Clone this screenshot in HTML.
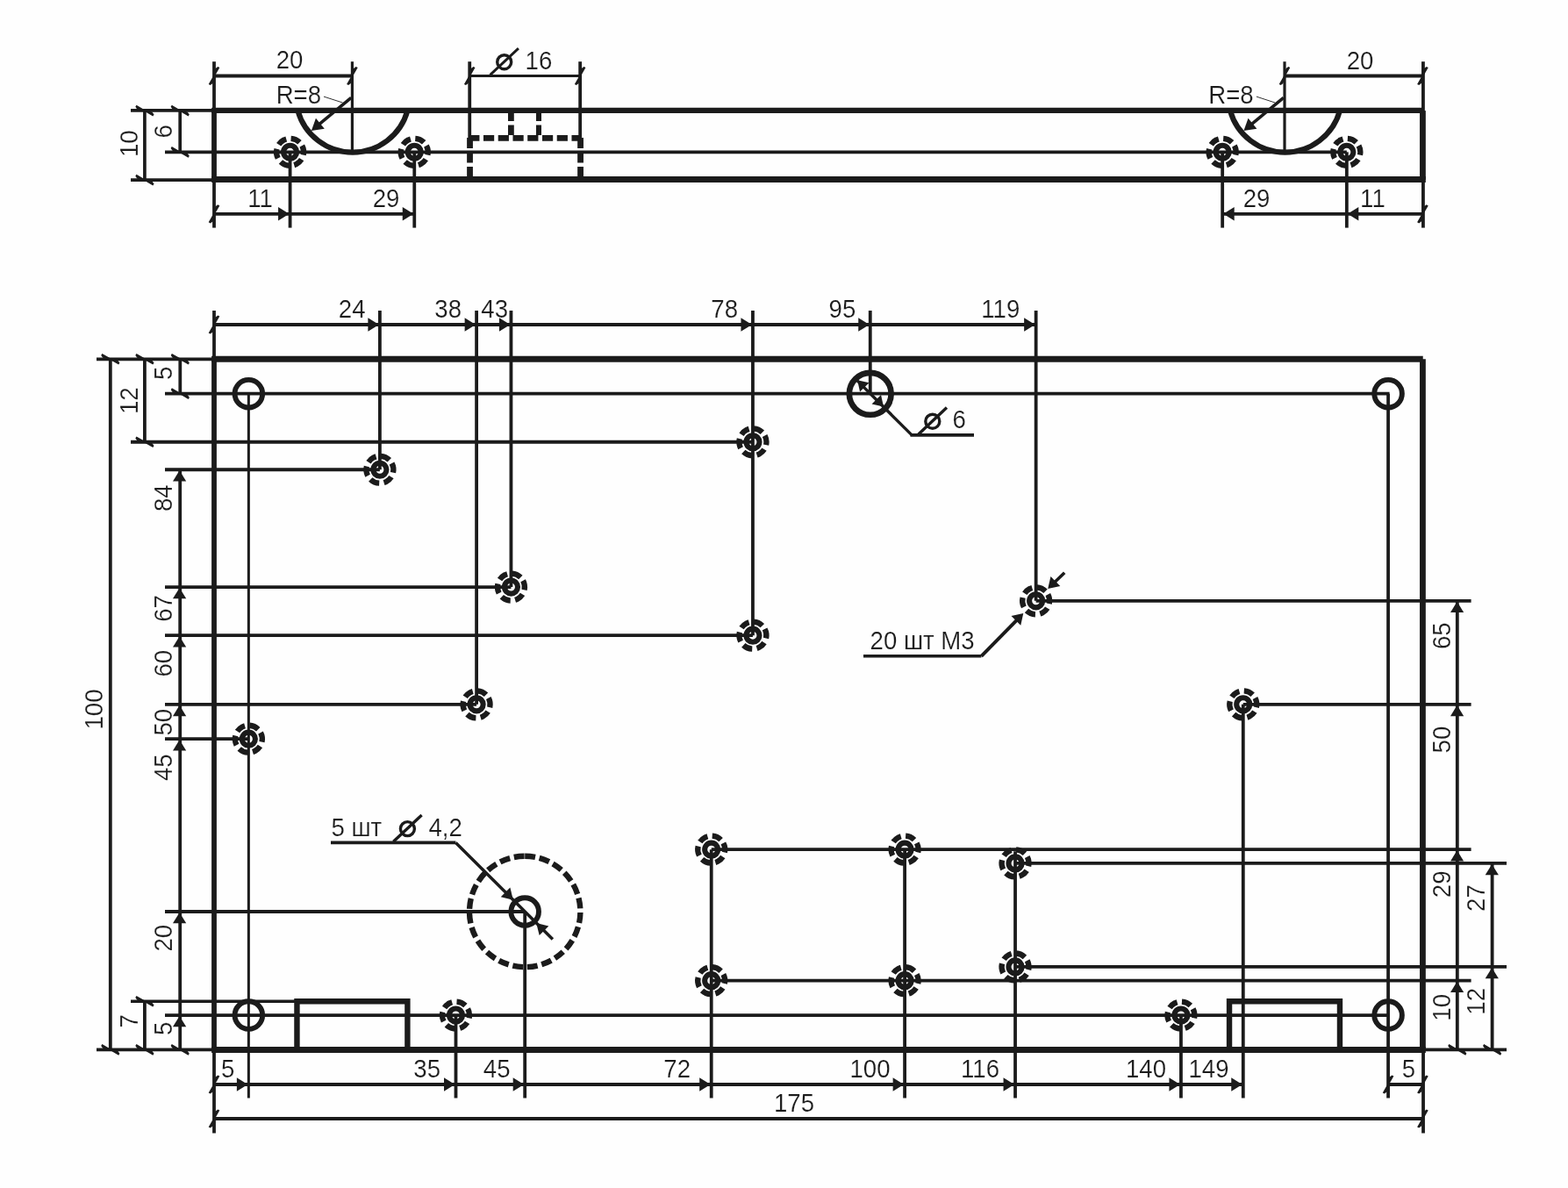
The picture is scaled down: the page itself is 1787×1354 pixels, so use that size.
<!DOCTYPE html>
<html lang="ru">
<head>
<meta charset="utf-8">
<title>Чертёж панели 175×100</title>
<style>
html,body{margin:0;padding:0;background:#fefefe;}
body{width:1787px;height:1354px;overflow:hidden;}
svg{display:block;will-change:transform;}
svg line, svg circle, svg path{stroke:#1b1b1b;}
svg text{font-family:"Liberation Sans",sans-serif;fill:#1b1b1b;stroke:#fefefe;stroke-width:0.2px;}
</style>
</head>
<body>
<svg width="1787" height="1354" viewBox="0 0 1787 1354">
<rect x="0" y="0" width="1787" height="1354" fill="#fefefe"/>
<line x1="241.1" y1="125.9" x2="1621.73" y2="125.9" stroke-width="6.3"/>
<line x1="241.1" y1="204.5" x2="1624.83" y2="204.5" stroke-width="6.9"/>
<line x1="244" y1="126.1" x2="244" y2="204.7" stroke-width="5.8"/>
<line x1="1621.43" y1="126.1" x2="1621.43" y2="204.7" stroke-width="6.8"/>
<line x1="244" y1="70.2" x2="244" y2="259.6" stroke-width="3.8"/>
<line x1="1621.93" y1="70.2" x2="1621.93" y2="259.6" stroke-width="3.8"/>
<line x1="188" y1="173.33" x2="1534.84" y2="173.33" stroke-width="3.8"/>
<path d="M339.43,126.1 A64.85,64.85 0 0 0 464.41,126.1" fill="none" stroke-width="6.1"/>
<line x1="401.42" y1="70.2" x2="401.42" y2="174.83" stroke-width="3.2"/>
<line x1="400.22" y1="111.4" x2="361.03" y2="143.94" stroke-width="3.6"/>
<polygon points="354.87,149.05 359.96,134.82 369.79,146.67" fill="#1b1b1b" stroke="none"/>
<path d="M1402.02,126.1 A64.85,64.85 0 0 0 1526.99,126.1" fill="none" stroke-width="6.1"/>
<line x1="1464.01" y1="70.2" x2="1464.01" y2="174.83" stroke-width="3.2"/>
<line x1="1462.81" y1="111.4" x2="1423.61" y2="143.94" stroke-width="3.6"/>
<polygon points="1417.46,149.05 1422.54,134.82 1432.38,146.67" fill="#1b1b1b" stroke="none"/>
<text transform="translate(314.7,117.6) scale(0.945,1)" font-size="29.2" text-anchor="start">R=8</text>
<line x1="369" y1="110.1" x2="390.5" y2="117" stroke-width="0.9"/>
<text transform="translate(1377.3,117.6) scale(0.945,1)" font-size="29.2" text-anchor="start">R=8</text>
<line x1="1431.9" y1="110.1" x2="1453.1" y2="117" stroke-width="0.9"/>
<line x1="244" y1="86.5" x2="401.42" y2="86.5" stroke-width="3.8"/>
<polygon points="242.8,87 245.6,77.9 248.3,75.9 250.3,77.1 245.2,86 242.4,95.1 239.7,97.1 237.7,95.9" fill="#1b1b1b" stroke="none"/>
<polygon points="400.22,87 403.02,77.9 405.72,75.9 407.72,77.1 402.62,86 399.82,95.1 397.12,97.1 395.12,95.9" fill="#1b1b1b" stroke="none"/>
<line x1="1464.01" y1="86.5" x2="1621.43" y2="86.5" stroke-width="3.8"/>
<polygon points="1462.81,87 1465.61,77.9 1468.31,75.9 1470.31,77.1 1465.21,86 1462.41,95.1 1459.71,97.1 1457.71,95.9" fill="#1b1b1b" stroke="none"/>
<polygon points="1620.23,87 1623.03,77.9 1625.73,75.9 1627.73,77.1 1622.63,86 1619.83,95.1 1617.13,97.1 1615.13,95.9" fill="#1b1b1b" stroke="none"/>
<text transform="translate(330,78.3) scale(0.945,1)" font-size="29.2" text-anchor="middle">20</text>
<text transform="translate(1550,78.8) scale(0.945,1)" font-size="29.2" text-anchor="middle">20</text>
<line x1="330.58" y1="173.33" x2="330.58" y2="259.6" stroke-width="3.8"/>
<circle cx="330.58" cy="173.33" r="7.55" stroke-width="6.1" fill="none"/>
<circle cx="330.58" cy="173.33" r="15.5" stroke-width="6.3" fill="none" stroke-dasharray="10.9 5.33" transform="rotate(-28 330.58 173.33)"/>
<line x1="472.26" y1="173.33" x2="472.26" y2="259.6" stroke-width="3.8"/>
<circle cx="472.26" cy="173.33" r="7.55" stroke-width="6.1" fill="none"/>
<circle cx="472.26" cy="173.33" r="15.5" stroke-width="6.3" fill="none" stroke-dasharray="10.9 5.33" transform="rotate(-28 472.26 173.33)"/>
<line x1="1393.17" y1="173.33" x2="1393.17" y2="259.6" stroke-width="3.8"/>
<circle cx="1393.17" cy="173.33" r="7.55" stroke-width="6.1" fill="none"/>
<circle cx="1393.17" cy="173.33" r="15.5" stroke-width="6.3" fill="none" stroke-dasharray="10.9 5.33" transform="rotate(-28 1393.17 173.33)"/>
<line x1="1534.84" y1="173.33" x2="1534.84" y2="259.6" stroke-width="3.8"/>
<circle cx="1534.84" cy="173.33" r="7.55" stroke-width="6.1" fill="none"/>
<circle cx="1534.84" cy="173.33" r="15.5" stroke-width="6.3" fill="none" stroke-dasharray="10.9 5.33" transform="rotate(-28 1534.84 173.33)"/>
<line x1="244" y1="243.8" x2="472.26" y2="243.8" stroke-width="3.8"/>
<polygon points="242.8,244.3 245.6,235.2 248.3,233.2 250.3,234.4 245.2,243.3 242.4,252.4 239.7,254.4 237.7,253.2" fill="#1b1b1b" stroke="none"/>
<polygon points="329.58,243.8 317.08,251.5 317.08,236.1" fill="#1b1b1b" stroke="none"/>
<polygon points="471.26,243.8 458.76,251.5 458.76,236.1" fill="#1b1b1b" stroke="none"/>
<line x1="1393.17" y1="243.8" x2="1621.43" y2="243.8" stroke-width="3.8"/>
<polygon points="1620.23,244.3 1623.03,235.2 1625.73,233.2 1627.73,234.4 1622.63,243.3 1619.83,252.4 1617.13,254.4 1615.13,253.2" fill="#1b1b1b" stroke="none"/>
<polygon points="1394.17,243.8 1406.67,236.1 1406.67,251.5" fill="#1b1b1b" stroke="none"/>
<polygon points="1535.84,243.8 1548.34,236.1 1548.34,251.5" fill="#1b1b1b" stroke="none"/>
<text transform="translate(296.5,236) scale(0.945,1)" font-size="29.2" text-anchor="middle">11</text>
<text transform="translate(440,236) scale(0.945,1)" font-size="29.2" text-anchor="middle">29</text>
<text transform="translate(1432,235.8) scale(0.945,1)" font-size="29.2" text-anchor="middle">29</text>
<text transform="translate(1564.4,235.8) scale(0.945,1)" font-size="29.2" text-anchor="middle">11</text>
<line x1="149" y1="125.9" x2="244" y2="125.9" stroke-width="3.8"/>
<line x1="149" y1="205.1" x2="244" y2="205.1" stroke-width="3.8"/>
<line x1="164.9" y1="126.1" x2="164.9" y2="204.7" stroke-width="3.7"/>
<polygon points="165.4,127.3 156.3,124.5 154.3,121.8 155.5,119.8 164.4,124.9 173.5,127.7 175.5,130.4 174.3,132.4" fill="#1b1b1b" stroke="none"/>
<polygon points="165.4,206.3 156.3,203.5 154.3,200.8 155.5,198.8 164.4,203.9 173.5,206.7 175.5,209.4 174.3,211.4" fill="#1b1b1b" stroke="none"/>
<line x1="205.2" y1="126.1" x2="205.2" y2="173.33" stroke-width="3.7"/>
<polygon points="205.7,127.3 196.6,124.5 194.6,121.8 195.8,119.8 204.7,124.9 213.8,127.7 215.8,130.4 214.6,132.4" fill="#1b1b1b" stroke="none"/>
<polygon points="205.7,174.53 196.6,171.73 194.6,169.03 195.8,167.03 204.7,172.13 213.8,174.93 215.8,177.63 214.6,179.63" fill="#1b1b1b" stroke="none"/>
<text transform="translate(156.8,179) rotate(-90) scale(0.945,1)" font-size="29.2" text-anchor="start">10</text>
<text transform="translate(195.8,157.4) rotate(-90) scale(0.945,1)" font-size="29.2" text-anchor="start">6</text>
<line x1="535.23" y1="70.2" x2="535.23" y2="157.58" stroke-width="3.8"/>
<line x1="661.16" y1="70.2" x2="661.16" y2="157.58" stroke-width="3.8"/>
<line x1="535.23" y1="86.4" x2="661.16" y2="86.4" stroke-width="3"/>
<polygon points="534.03,87 536.83,77.9 539.53,75.9 541.53,77.1 536.43,86 533.63,95.1 530.93,97.1 528.93,95.9" fill="#1b1b1b" stroke="none"/>
<polygon points="659.96,87 662.76,77.9 665.46,75.9 667.46,77.1 662.36,86 659.56,95.1 656.86,97.1 654.86,95.9" fill="#1b1b1b" stroke="none"/>
<line x1="534.23" y1="157.38" x2="662.66" y2="157.38" stroke-width="6.8" stroke-dasharray="12.2 4.55"/>
<line x1="535.53" y1="157.08" x2="535.53" y2="204.7" stroke-width="6.8" stroke-dasharray="11.9 4.6"/>
<line x1="661.56" y1="157.08" x2="661.56" y2="204.7" stroke-width="6.8" stroke-dasharray="11.9 4.6"/>
<line x1="582.39" y1="126.1" x2="582.39" y2="153.98" stroke-width="6.8" stroke-dasharray="11.9 4.6"/>
<line x1="613.99" y1="126.1" x2="613.99" y2="153.98" stroke-width="6" stroke-dasharray="11.9 4.6"/>
<circle cx="574.7" cy="70.7" r="8" stroke-width="3.4" fill="none"/>
<line x1="558.6" y1="85.4" x2="590.9" y2="55.1" stroke-width="2.9"/>
<text transform="translate(598.6,79) scale(0.945,1)" font-size="29.2" text-anchor="start">16</text>
<line x1="241.1" y1="409.3" x2="1621.73" y2="409.3" stroke-width="7"/>
<line x1="241.1" y1="1196.4" x2="1624.83" y2="1196.4" stroke-width="7"/>
<line x1="244" y1="409.3" x2="244" y2="1196.4" stroke-width="5.8"/>
<line x1="1621.43" y1="409.3" x2="1621.43" y2="1196.4" stroke-width="6.8"/>
<path d="M338.45,1196.4 V1141.3 H464.39 V1196.4" fill="none" stroke-width="6.4" stroke-linejoin="miter"/>
<path d="M1401.04,1196.4 V1141.3 H1526.97 V1196.4" fill="none" stroke-width="6.4" stroke-linejoin="miter"/>
<line x1="244" y1="354" x2="244" y2="1291.5" stroke-width="3.8"/>
<line x1="1622.03" y1="1196" x2="1622.03" y2="1291.5" stroke-width="3.8"/>
<line x1="110" y1="409.3" x2="244" y2="409.3" stroke-width="3.8"/>
<line x1="110" y1="1196.4" x2="244" y2="1196.4" stroke-width="3.8"/>
<line x1="1621.43" y1="1196.4" x2="1717" y2="1196.4" stroke-width="3.8"/>
<line x1="244" y1="370" x2="1180.65" y2="370" stroke-width="3.8"/>
<polygon points="242.8,370.5 245.6,361.4 248.3,359.4 250.3,360.6 245.2,369.5 242.4,378.6 239.7,380.6 237.7,379.4" fill="#1b1b1b" stroke="none"/>
<line x1="432.9" y1="354" x2="432.9" y2="535.24" stroke-width="3.8"/>
<polygon points="431.9,370 419.4,377.7 419.4,362.3" fill="#1b1b1b" stroke="none"/>
<line x1="543.1" y1="354" x2="543.1" y2="802.85" stroke-width="3.8"/>
<polygon points="542.1,370 529.6,377.7 529.6,362.3" fill="#1b1b1b" stroke="none"/>
<line x1="582.45" y1="354" x2="582.45" y2="669.04" stroke-width="3.8"/>
<polygon points="581.45,370 568.95,377.7 568.95,362.3" fill="#1b1b1b" stroke="none"/>
<line x1="857.94" y1="354" x2="857.94" y2="724.14" stroke-width="3.8"/>
<polygon points="856.94,370 844.44,377.7 844.44,362.3" fill="#1b1b1b" stroke="none"/>
<line x1="991.75" y1="354" x2="991.75" y2="448.66" stroke-width="3.8"/>
<polygon points="990.75,370 978.25,377.7 978.25,362.3" fill="#1b1b1b" stroke="none"/>
<line x1="1180.65" y1="354" x2="1180.65" y2="684.79" stroke-width="3.8"/>
<polygon points="1179.65,370 1167.15,377.7 1167.15,362.3" fill="#1b1b1b" stroke="none"/>
<line x1="244" y1="1236" x2="1416.78" y2="1236" stroke-width="3.8"/>
<polygon points="242.8,1236.5 245.6,1227.4 248.3,1225.4 250.3,1226.6 245.2,1235.5 242.4,1244.6 239.7,1246.6 237.7,1245.4" fill="#1b1b1b" stroke="none"/>
<line x1="283.36" y1="448.66" x2="283.36" y2="1251.5" stroke-width="3"/>
<polygon points="282.36,1236 269.86,1243.7 269.86,1228.3" fill="#1b1b1b" stroke="none"/>
<line x1="519.49" y1="1157.05" x2="519.49" y2="1251.5" stroke-width="3.8"/>
<polygon points="518.49,1236 505.99,1243.7 505.99,1228.3" fill="#1b1b1b" stroke="none"/>
<line x1="598.19" y1="1038.98" x2="598.19" y2="1251.5" stroke-width="3.8"/>
<polygon points="597.19,1236 584.69,1243.7 584.69,1228.3" fill="#1b1b1b" stroke="none"/>
<line x1="810.71" y1="968.14" x2="810.71" y2="1251.5" stroke-width="3.8"/>
<polygon points="809.71,1236 797.21,1243.7 797.21,1228.3" fill="#1b1b1b" stroke="none"/>
<line x1="1031.1" y1="968.14" x2="1031.1" y2="1251.5" stroke-width="3.8"/>
<polygon points="1030.1,1236 1017.6,1243.7 1017.6,1228.3" fill="#1b1b1b" stroke="none"/>
<line x1="1157.04" y1="970.14" x2="1157.04" y2="1251.5" stroke-width="3.8"/>
<polygon points="1156.04,1236 1143.54,1243.7 1143.54,1228.3" fill="#1b1b1b" stroke="none"/>
<line x1="1345.94" y1="1157.05" x2="1345.94" y2="1251.5" stroke-width="3.8"/>
<polygon points="1344.94,1236 1332.44,1243.7 1332.44,1228.3" fill="#1b1b1b" stroke="none"/>
<line x1="1416.78" y1="802.85" x2="1416.78" y2="1251.5" stroke-width="3.8"/>
<polygon points="1415.78,1236 1403.28,1243.7 1403.28,1228.3" fill="#1b1b1b" stroke="none"/>
<line x1="1582.07" y1="448.66" x2="1582.07" y2="1251.5" stroke-width="3.8"/>
<line x1="1582.07" y1="1236" x2="1621.43" y2="1236" stroke-width="3.8"/>
<polygon points="1580.87,1236.5 1583.67,1227.4 1586.37,1225.4 1588.37,1226.6 1583.27,1235.5 1580.47,1244.6 1577.77,1246.6 1575.77,1245.4" fill="#1b1b1b" stroke="none"/>
<polygon points="1620.23,1236.5 1623.03,1227.4 1625.73,1225.4 1627.73,1226.6 1622.63,1235.5 1619.83,1244.6 1617.13,1246.6 1615.13,1245.4" fill="#1b1b1b" stroke="none"/>
<line x1="244" y1="1275" x2="1621.43" y2="1275" stroke-width="3.8"/>
<polygon points="242.8,1275.5 245.6,1266.4 248.3,1264.4 250.3,1265.6 245.2,1274.5 242.4,1283.6 239.7,1285.6 237.7,1284.4" fill="#1b1b1b" stroke="none"/>
<polygon points="1620.23,1275.5 1623.03,1266.4 1625.73,1264.4 1627.73,1265.6 1622.63,1274.5 1619.83,1283.6 1617.13,1285.6 1615.13,1284.4" fill="#1b1b1b" stroke="none"/>
<line x1="188" y1="448.66" x2="1583.57" y2="448.66" stroke-width="3.8"/>
<line x1="149" y1="503.75" x2="857.94" y2="503.75" stroke-width="3.8"/>
<line x1="188" y1="535.24" x2="432.9" y2="535.24" stroke-width="3.8"/>
<line x1="188" y1="669.04" x2="582.45" y2="669.04" stroke-width="3.8"/>
<line x1="188" y1="724.14" x2="857.94" y2="724.14" stroke-width="3.8"/>
<line x1="188" y1="802.85" x2="543.1" y2="802.85" stroke-width="3.8"/>
<line x1="188" y1="842.21" x2="283.36" y2="842.21" stroke-width="3.8"/>
<line x1="188" y1="1038.98" x2="598.19" y2="1038.98" stroke-width="3.8"/>
<line x1="188" y1="1157.05" x2="1582.07" y2="1157.05" stroke-width="3.8"/>
<line x1="149" y1="1141.3" x2="338.45" y2="1141.3" stroke-width="3.5"/>
<line x1="125.8" y1="409.3" x2="125.8" y2="1196.4" stroke-width="3.8"/>
<polygon points="126.3,410.5 117.2,407.7 115.2,405 116.4,403 125.3,408.1 134.4,410.9 136.4,413.6 135.2,415.6" fill="#1b1b1b" stroke="none"/>
<polygon points="126.3,1197.6 117.2,1194.8 115.2,1192.1 116.4,1190.1 125.3,1195.2 134.4,1198 136.4,1200.7 135.2,1202.7" fill="#1b1b1b" stroke="none"/>
<line x1="164.9" y1="409.3" x2="164.9" y2="503.75" stroke-width="3.8"/>
<polygon points="165.4,410.5 156.3,407.7 154.3,405 155.5,403 164.4,408.1 173.5,410.9 175.5,413.6 174.3,415.6" fill="#1b1b1b" stroke="none"/>
<polygon points="165.4,504.95 156.3,502.15 154.3,499.45 155.5,497.45 164.4,502.55 173.5,505.35 175.5,508.05 174.3,510.05" fill="#1b1b1b" stroke="none"/>
<line x1="205.3" y1="409.3" x2="205.3" y2="448.66" stroke-width="3.8"/>
<polygon points="205.8,410.5 196.7,407.7 194.7,405 195.9,403 204.8,408.1 213.9,410.9 215.9,413.6 214.7,415.6" fill="#1b1b1b" stroke="none"/>
<polygon points="205.8,449.86 196.7,447.06 194.7,444.36 195.9,442.36 204.8,447.46 213.9,450.26 215.9,452.96 214.7,454.96" fill="#1b1b1b" stroke="none"/>
<line x1="164.9" y1="1141.3" x2="164.9" y2="1196.4" stroke-width="3.8"/>
<polygon points="165.4,1142.5 156.3,1139.7 154.3,1137 155.5,1135 164.4,1140.1 173.5,1142.9 175.5,1145.6 174.3,1147.6" fill="#1b1b1b" stroke="none"/>
<polygon points="165.4,1197.6 156.3,1194.8 154.3,1192.1 155.5,1190.1 164.4,1195.2 173.5,1198 175.5,1200.7 174.3,1202.7" fill="#1b1b1b" stroke="none"/>
<line x1="205.2" y1="535.24" x2="205.2" y2="1196.4" stroke-width="3.8"/>
<polygon points="205.7,1197.6 196.6,1194.8 194.6,1192.1 195.8,1190.1 204.7,1195.2 213.8,1198 215.8,1200.7 214.6,1202.7" fill="#1b1b1b" stroke="none"/>
<polygon points="204.6,1158.05 212.2,1170.35 197,1170.35" fill="#1b1b1b" stroke="none"/>
<polygon points="204.6,1039.98 212.2,1052.28 197,1052.28" fill="#1b1b1b" stroke="none"/>
<polygon points="204.6,843.21 212.2,855.51 197,855.51" fill="#1b1b1b" stroke="none"/>
<polygon points="204.6,803.85 212.2,816.15 197,816.15" fill="#1b1b1b" stroke="none"/>
<polygon points="204.6,725.14 212.2,737.44 197,737.44" fill="#1b1b1b" stroke="none"/>
<polygon points="204.6,670.04 212.2,682.34 197,682.34" fill="#1b1b1b" stroke="none"/>
<polygon points="204.6,536.24 212.2,548.54 197,548.54" fill="#1b1b1b" stroke="none"/>
<line x1="1180.65" y1="684.79" x2="1676.6" y2="684.79" stroke-width="3.8"/>
<line x1="1416.78" y1="802.85" x2="1676.6" y2="802.85" stroke-width="3.8"/>
<line x1="810.71" y1="968.14" x2="1676.6" y2="968.14" stroke-width="3.8"/>
<line x1="810.71" y1="1117.69" x2="1676.6" y2="1117.69" stroke-width="3.8"/>
<line x1="1157.04" y1="983.88" x2="1717" y2="983.88" stroke-width="3.8"/>
<line x1="1157.04" y1="1101.95" x2="1717" y2="1101.95" stroke-width="3.8"/>
<line x1="1660.8" y1="684.79" x2="1660.8" y2="1196.4" stroke-width="3.8"/>
<polygon points="1661.3,1197.6 1652.2,1194.8 1650.2,1192.1 1651.4,1190.1 1660.3,1195.2 1669.4,1198 1671.4,1200.7 1670.2,1202.7" fill="#1b1b1b" stroke="none"/>
<polygon points="1660.6,1118.69 1668.2,1130.99 1653,1130.99" fill="#1b1b1b" stroke="none"/>
<polygon points="1660.6,969.14 1668.2,981.44 1653,981.44" fill="#1b1b1b" stroke="none"/>
<polygon points="1660.6,803.85 1668.2,816.15 1653,816.15" fill="#1b1b1b" stroke="none"/>
<polygon points="1660.6,685.79 1668.2,698.09 1653,698.09" fill="#1b1b1b" stroke="none"/>
<line x1="1700.6" y1="983.88" x2="1700.6" y2="1196.4" stroke-width="3.8"/>
<polygon points="1701.1,1197.6 1692,1194.8 1690,1192.1 1691.2,1190.1 1700.1,1195.2 1709.2,1198 1711.2,1200.7 1710,1202.7" fill="#1b1b1b" stroke="none"/>
<polygon points="1700.3,1102.95 1707.9,1115.25 1692.7,1115.25" fill="#1b1b1b" stroke="none"/>
<polygon points="1700.3,984.88 1707.9,997.18 1692.7,997.18" fill="#1b1b1b" stroke="none"/>
<circle cx="283.36" cy="448.66" r="15.8" stroke-width="5.9" fill="none"/>
<circle cx="1582.07" cy="448.66" r="15.8" stroke-width="5.9" fill="none"/>
<circle cx="283.36" cy="1157.05" r="15.8" stroke-width="5.9" fill="none"/>
<circle cx="1582.07" cy="1157.05" r="15.8" stroke-width="5.9" fill="none"/>
<circle cx="991.75" cy="448.86" r="23.9" stroke-width="6.7" fill="none"/>
<circle cx="432.9" cy="535.24" r="7.55" stroke-width="6.1" fill="none"/>
<circle cx="432.9" cy="535.24" r="15.5" stroke-width="6.3" fill="none" stroke-dasharray="10.9 5.33" transform="rotate(-28 432.9 535.24)"/>
<circle cx="857.94" cy="503.75" r="7.55" stroke-width="6.1" fill="none"/>
<circle cx="857.94" cy="503.75" r="15.5" stroke-width="6.3" fill="none" stroke-dasharray="10.9 5.33" transform="rotate(-28 857.94 503.75)"/>
<circle cx="582.45" cy="669.04" r="7.55" stroke-width="6.1" fill="none"/>
<circle cx="582.45" cy="669.04" r="15.5" stroke-width="6.3" fill="none" stroke-dasharray="10.9 5.33" transform="rotate(-28 582.45 669.04)"/>
<circle cx="857.94" cy="724.14" r="7.55" stroke-width="6.1" fill="none"/>
<circle cx="857.94" cy="724.14" r="15.5" stroke-width="6.3" fill="none" stroke-dasharray="10.9 5.33" transform="rotate(-28 857.94 724.14)"/>
<circle cx="1180.65" cy="684.79" r="7.55" stroke-width="6.1" fill="none"/>
<circle cx="1180.65" cy="684.79" r="15.5" stroke-width="6.3" fill="none" stroke-dasharray="10.9 5.33" transform="rotate(-28 1180.65 684.79)"/>
<circle cx="543.1" cy="802.85" r="7.55" stroke-width="6.1" fill="none"/>
<circle cx="543.1" cy="802.85" r="15.5" stroke-width="6.3" fill="none" stroke-dasharray="10.9 5.33" transform="rotate(-28 543.1 802.85)"/>
<circle cx="283.36" cy="842.21" r="7.55" stroke-width="6.1" fill="none"/>
<circle cx="283.36" cy="842.21" r="15.5" stroke-width="6.3" fill="none" stroke-dasharray="10.9 5.33" transform="rotate(-28 283.36 842.21)"/>
<circle cx="1416.78" cy="802.85" r="7.55" stroke-width="6.1" fill="none"/>
<circle cx="1416.78" cy="802.85" r="15.5" stroke-width="6.3" fill="none" stroke-dasharray="10.9 5.33" transform="rotate(-28 1416.78 802.85)"/>
<circle cx="810.71" cy="968.14" r="7.55" stroke-width="6.1" fill="none"/>
<circle cx="810.71" cy="968.14" r="15.5" stroke-width="6.3" fill="none" stroke-dasharray="10.9 5.33" transform="rotate(-28 810.71 968.14)"/>
<circle cx="1031.1" cy="968.14" r="7.55" stroke-width="6.1" fill="none"/>
<circle cx="1031.1" cy="968.14" r="15.5" stroke-width="6.3" fill="none" stroke-dasharray="10.9 5.33" transform="rotate(-28 1031.1 968.14)"/>
<circle cx="1157.04" cy="983.88" r="7.55" stroke-width="6.1" fill="none"/>
<circle cx="1157.04" cy="983.88" r="15.5" stroke-width="6.3" fill="none" stroke-dasharray="10.9 5.33" transform="rotate(-28 1157.04 983.88)"/>
<circle cx="810.71" cy="1117.69" r="7.55" stroke-width="6.1" fill="none"/>
<circle cx="810.71" cy="1117.69" r="15.5" stroke-width="6.3" fill="none" stroke-dasharray="10.9 5.33" transform="rotate(-28 810.71 1117.69)"/>
<circle cx="1031.1" cy="1117.69" r="7.55" stroke-width="6.1" fill="none"/>
<circle cx="1031.1" cy="1117.69" r="15.5" stroke-width="6.3" fill="none" stroke-dasharray="10.9 5.33" transform="rotate(-28 1031.1 1117.69)"/>
<circle cx="1157.04" cy="1101.95" r="7.55" stroke-width="6.1" fill="none"/>
<circle cx="1157.04" cy="1101.95" r="15.5" stroke-width="6.3" fill="none" stroke-dasharray="10.9 5.33" transform="rotate(-28 1157.04 1101.95)"/>
<circle cx="519.49" cy="1157.05" r="7.55" stroke-width="6.1" fill="none"/>
<circle cx="519.49" cy="1157.05" r="15.5" stroke-width="6.3" fill="none" stroke-dasharray="10.9 5.33" transform="rotate(-28 519.49 1157.05)"/>
<circle cx="1345.94" cy="1157.05" r="7.55" stroke-width="6.1" fill="none"/>
<circle cx="1345.94" cy="1157.05" r="15.5" stroke-width="6.3" fill="none" stroke-dasharray="10.9 5.33" transform="rotate(-28 1345.94 1157.05)"/>
<circle cx="598.19" cy="1038.98" r="63.2" stroke-width="6.4" fill="none" stroke-dasharray="11.9 4.795" transform="rotate(-90 598.19 1038.98)"/>
<circle cx="598.19" cy="1038.98" r="15.8" stroke-width="5.9" fill="none"/>
<line x1="377" y1="960.4" x2="519.4" y2="960.4" stroke-width="3.6"/>
<line x1="519.4" y1="960.4" x2="629.9" y2="1070.5" stroke-width="3.5"/>
<polygon points="584.89,1025.68 570.75,1022.14 581.36,1011.54" fill="#1b1b1b" stroke="none"/>
<polygon points="611.19,1051.98 625.34,1055.52 614.73,1066.12" fill="#1b1b1b" stroke="none"/>
<text transform="translate(377.5,952.5) scale(0.945,1)" font-size="29.2" text-anchor="start">5 шт</text>
<circle cx="464.4" cy="944.6" r="8" stroke-width="3.4" fill="none"/>
<line x1="448.3" y1="959.3" x2="480.6" y2="929" stroke-width="3.4"/>
<text transform="translate(488.5,952.5) scale(0.945,1)" font-size="29.2" text-anchor="start">4,2</text>
<line x1="975.75" y1="432.66" x2="1039.2" y2="495.9" stroke-width="3.4"/>
<line x1="1037.5" y1="495.9" x2="1110" y2="495.9" stroke-width="3.6"/>
<polygon points="977.14,433.26 990.51,436.15 980.04,446.62" fill="#1b1b1b" stroke="none"/>
<polygon points="1006.95,463.46 993.58,460.56 1004.05,450.09" fill="#1b1b1b" stroke="none"/>
<circle cx="1062.8" cy="480.2" r="8" stroke-width="3.4" fill="none"/>
<line x1="1046.7" y1="494.9" x2="1079" y2="464.6" stroke-width="3.4"/>
<text transform="translate(1085.5,487.8) scale(0.945,1)" font-size="29.2" text-anchor="start">6</text>
<line x1="984" y1="747.8" x2="1118.4" y2="747.8" stroke-width="3.6"/>
<line x1="1118.4" y1="747.8" x2="1162.65" y2="702.79" stroke-width="4"/>
<polygon points="1166.25,699.09 1163.28,712.8 1152.53,702.05" fill="#1b1b1b" stroke="none"/>
<line x1="1213.2" y1="652.8" x2="1198.65" y2="666.79" stroke-width="3.6"/>
<polygon points="1194.25,671.09 1197.43,657.01 1208.32,667.9" fill="#1b1b1b" stroke="none"/>
<text transform="translate(991.6,739.8) scale(0.945,1)" font-size="29.2" text-anchor="start">20 шт М3</text>
<text transform="translate(416.5,361.8) scale(0.945,1)" font-size="29.2" text-anchor="end">24</text>
<text transform="translate(526,361.8) scale(0.945,1)" font-size="29.2" text-anchor="end">38</text>
<text transform="translate(579,361.8) scale(0.945,1)" font-size="29.2" text-anchor="end">43</text>
<text transform="translate(841,361.8) scale(0.945,1)" font-size="29.2" text-anchor="end">78</text>
<text transform="translate(975.3,361.8) scale(0.945,1)" font-size="29.2" text-anchor="end">95</text>
<text transform="translate(1162.3,361.8) scale(0.945,1)" font-size="29.2" text-anchor="end">119</text>
<text transform="translate(502,1227.5) scale(0.945,1)" font-size="29.2" text-anchor="end">35</text>
<text transform="translate(581.5,1227.5) scale(0.945,1)" font-size="29.2" text-anchor="end">45</text>
<text transform="translate(787,1227.5) scale(0.945,1)" font-size="29.2" text-anchor="end">72</text>
<text transform="translate(1014.5,1227.5) scale(0.945,1)" font-size="29.2" text-anchor="end">100</text>
<text transform="translate(1139,1227.5) scale(0.945,1)" font-size="29.2" text-anchor="end">116</text>
<text transform="translate(1329,1227.5) scale(0.945,1)" font-size="29.2" text-anchor="end">140</text>
<text transform="translate(1400.5,1227.5) scale(0.945,1)" font-size="29.2" text-anchor="end">149</text>
<text transform="translate(252,1227.5) scale(0.945,1)" font-size="29.2" text-anchor="start">5</text>
<text transform="translate(1597.7,1227.5) scale(0.945,1)" font-size="29.2" text-anchor="start">5</text>
<text transform="translate(905,1266.5) scale(0.945,1)" font-size="29.2" text-anchor="middle">175</text>
<text transform="translate(116.5,831.5) rotate(-90) scale(0.945,1)" font-size="29.2" text-anchor="start">100</text>
<text transform="translate(156.5,472) rotate(-90) scale(0.945,1)" font-size="29.2" text-anchor="start">12</text>
<text transform="translate(195.5,433) rotate(-90) scale(0.945,1)" font-size="29.2" text-anchor="start">5</text>
<text transform="translate(195.5,583) rotate(-90) scale(0.945,1)" font-size="29.2" text-anchor="start">84</text>
<text transform="translate(195.5,708.8) rotate(-90) scale(0.945,1)" font-size="29.2" text-anchor="start">67</text>
<text transform="translate(195.5,771.5) rotate(-90) scale(0.945,1)" font-size="29.2" text-anchor="start">60</text>
<text transform="translate(195.5,838.6) rotate(-90) scale(0.945,1)" font-size="29.2" text-anchor="start">50</text>
<text transform="translate(195.5,890) rotate(-90) scale(0.945,1)" font-size="29.2" text-anchor="start">45</text>
<text transform="translate(195.5,1084.5) rotate(-90) scale(0.945,1)" font-size="29.2" text-anchor="start">20</text>
<text transform="translate(156.5,1171.5) rotate(-90) scale(0.945,1)" font-size="29.2" text-anchor="start">7</text>
<text transform="translate(195.5,1180.1) rotate(-90) scale(0.945,1)" font-size="29.2" text-anchor="start">5</text>
<text transform="translate(1652.5,740.1) rotate(-90) scale(0.945,1)" font-size="29.2" text-anchor="start">65</text>
<text transform="translate(1652.5,858.4) rotate(-90) scale(0.945,1)" font-size="29.2" text-anchor="start">50</text>
<text transform="translate(1652.5,1023.2) rotate(-90) scale(0.945,1)" font-size="29.2" text-anchor="start">29</text>
<text transform="translate(1652.5,1163.7) rotate(-90) scale(0.945,1)" font-size="29.2" text-anchor="start">10</text>
<text transform="translate(1691.7,1038.9) rotate(-90) scale(0.945,1)" font-size="29.2" text-anchor="start">27</text>
<text transform="translate(1691.7,1156.7) rotate(-90) scale(0.945,1)" font-size="29.2" text-anchor="start">12</text>
</svg>
</body>
</html>
